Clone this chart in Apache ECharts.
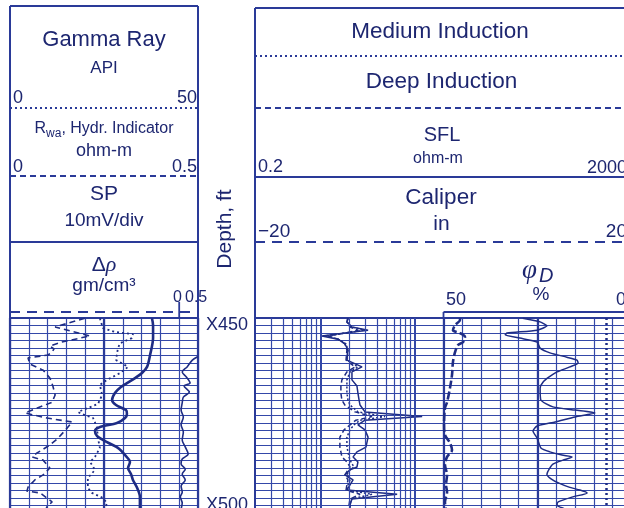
<!DOCTYPE html>
<html><head><meta charset="utf-8">
<script src="https://cdn.jsdelivr.net/npm/echarts@6/dist/echarts.min.js"></script>
<style>html,body{margin:0;padding:0;background:#fff}#c{width:624px;height:508px}</style>
</head><body><div id="c"></div>
<script>
// ---------------- DATA ----------------
// Track 1
const gammaDepth = [448.0, 448.5, 450.4, 452.9, 454.6, 455.7, 456.5, 457.4, 458.2, 459.0, 460.7, 462.4, 464.6, 466.8, 469.3, 471.3, 474.3, 475.7, 476.8, 478.5, 481.3, 483.2, 485.4, 486.5, 487.4, 489.6, 491.5, 492.9, 494.9, 496.0, 496.5, 497.9, 499.0, 500.4, 501.8, 503.5];
const gammaAPI   = [19.9, 19.9, 12.0, 21.3, 13.8, 10.6, 11.7, 11.2, 10.1, 4.8, 5.3, 8.8, 10.6, 11.4, 12.0, 11.2, 4.0, 9.8, 16.5, 15.2, 12.8, 10.6, 7.2, 5.9, 8.8, 10.6, 8.8, 6.6, 4.8, 4.5, 8.0, 9.8, 11.2, 9.8, 9.3, 9.8];

const rwaDepth = [448.0, 448.5, 450.7, 451.8, 452.4, 453.5, 454.9, 456.3, 459.6, 461.0, 461.5, 463.2, 465.1, 466.5, 469.3, 471.8, 474.0, 474.6, 475.7, 478.2, 481.3, 484.0, 486.5, 487.9, 490.1, 492.4, 495.1, 496.5, 497.9, 499.3, 500.7, 503.5];
const rwaOhmm  = [0.239, 0.239, 0.247, 0.279, 0.327, 0.324, 0.293, 0.287, 0.282, 0.306, 0.314, 0.293, 0.258, 0.239, 0.245, 0.234, 0.181, 0.191, 0.221, 0.231, 0.234, 0.239, 0.226, 0.213, 0.226, 0.207, 0.207, 0.218, 0.247, 0.258, 0.253, 0.250];

const spDepth = [448.0, 449.9, 453.5, 458.2, 461.5, 463.2, 464.6, 466.0, 467.1, 468.7, 470.7, 472.1, 473.5, 474.6, 475.7, 477.1, 478.2, 479.3, 480.7, 482.4, 484.0, 486.0, 487.9, 489.6, 491.3, 492.9, 495.1, 497.6, 499.9, 503.5];
const spMv    = [-24.5, -23.9, -23.9, -25.5, -27.1, -29.8, -33.5, -37.8, -41.0, -44.1, -45.7, -43.6, -38.3, -37.8, -38.8, -43.1, -52.1, -54.8, -53.7, -48.4, -42.6, -38.8, -36.2, -37.2, -35.6, -34.6, -32.4, -30.9, -30.9, -30.9];

const drhoDepth = [458.6, 459.6, 461.5, 462.9, 464.3, 466.0, 466.8, 468.5, 469.9, 471.5, 473.5, 475.4, 477.6, 479.6, 481.8, 483.7, 485.7, 487.1, 488.5, 489.9, 491.3, 492.9, 494.6, 496.3, 497.6, 499.3, 501.3, 503.5];
const drhoVal   = [0.50, 0.35, 0.21, 0.08, 0.19, 0.29, 0.13, 0.27, 0.11, 0.08, 0.05, 0.11, 0.05, 0.11, 0.08, 0.16, 0.24, 0.08, 0.05, 0.16, 0.08, 0.16, 0.05, 0.08, 0.03, 0.08, 0.05, 0.08];

// Track 2 (resistivity, ohm-m, log 0.2-2000)
const resDepth = [448.0, 449.0, 450.4, 451.3, 452.1, 452.9, 453.8, 455.1, 456.8, 459.6, 461.5, 462.9, 465.1, 466.8, 468.8, 470.7, 472.1, 474.0, 475.3, 476.3, 477.6, 479.0, 481.0, 483.8, 485.1, 486.5, 487.9, 489.3, 490.1, 491.5, 492.9, 494.3, 495.7, 496.9, 498.2, 499.9, 501.8];
const sflOhmm  = [1.95, 1.90, 2.15, 3.19, 1.81, 1.03, 1.53, 1.81, 1.95, 1.90, 2.75, 2.15, 2.15, 2.43, 2.49, 2.56, 2.62, 2.96, 12.0, 2.96, 2.49, 2.96, 3.19, 3.03, 2.43, 2.21, 2.49, 2.43, 2.05, 1.81, 2.21, 2.05, 1.90, 6.5, 2.15, 2.05, 2.05];
const deepOhmm = [1.95, 1.90, 2.05, 2.49, 1.81, 1.20, 1.53, 1.81, 1.90, 1.86, 2.32, 1.90, 1.68, 1.64, 1.64, 1.68, 1.81, 2.32, 3.51, 2.37, 2.05, 1.77, 1.60, 1.60, 1.64, 1.68, 1.90, 2.05, 1.95, 1.81, 1.95, 1.90, 1.86, 2.62, 2.05, 2.00, 2.00];
const medOhmm  = [1.95, 1.90, 2.10, 2.89, 1.86, 1.11, 1.53, 1.86, 1.95, 1.90, 2.49, 2.05, 1.90, 1.90, 1.90, 1.95, 2.05, 2.49, 4.83, 2.62, 2.26, 2.05, 1.90, 1.90, 1.95, 2.00, 2.10, 2.26, 2.05, 1.90, 2.05, 1.95, 1.90, 3.51, 2.10, 2.05, 2.05];

// Caliper (in, -20..20 across tracks 2-3)
const calDepth = [447.9, 448.5, 449.9, 451.3, 452.1, 453.2, 454.6, 455.4, 457.4, 460.1, 463.7, 467.4, 471.3, 472.9, 477.6, 480.4, 482.6, 484.6, 486.5, 488.7, 491.5, 494.3, 496.3, 499.0, 501.8];
const calIn    = [1.81, 1.81, 1.28, 1.06, 1.81, 2.34, 2.13, 1.60, 1.28, 1.06, 0.96, 0.74, 0.43, 0.21, 0.11, 0.21, 0.74, 0.96, 0.43, 0.21, 0.43, 0.32, 0.43, 0.21, 0.32];

// Track 3 (density porosity %, 50..0)
const phiDepth = [448.0, 449.0, 450.1, 451.3, 452.1, 452.6, 453.5, 454.6, 456.3, 457.6, 458.8, 459.6, 460.4, 461.5, 462.9, 464.3, 465.7, 467.4, 470.7, 472.6, 473.5, 474.3, 475.4, 476.8, 477.9, 479.3, 481.3, 484.0, 485.1, 486.0, 486.5, 487.4, 488.5, 489.9, 491.3, 492.6, 493.8, 494.9, 495.7, 496.5, 497.6, 499.0, 499.9, 501.0, 502.1];
const phiPct   = [28.9, 24.3, 22.5, 25.1, 33.1, 33.6, 29.7, 25.1, 24.3, 21.7, 17.2, 14.5, 14.2, 16.4, 19.8, 21.9, 23.5, 24.3, 24.1, 20.9, 15.0, 9.7, 15.0, 20.3, 25.1, 26.2, 25.1, 24.1, 21.7, 18.5, 15.8, 18.2, 20.9, 21.9, 22.5, 21.4, 19.3, 16.6, 13.7, 11.8, 15.6, 19.5, 19.8, 17.7, 16.4];
const phiDottedRef = [6.8];

// Grid / tick values
const logGridValues = [0.3, 0.4, 0.5, 0.6, 0.7, 0.8, 0.9, 1, 2, 3, 4, 5, 6, 7, 8, 9, 10];
const depthLabels = {450: 'X450', 500: 'X500'};

// ---------------- STYLE ----------------
const C_TEXT = '#1d2670', C_LINE = '#2a3a98', C_GRID = '#3448a8', C_CURVE = '#1e2c84';
const FONT = '"Liberation Sans", Arial, sans-serif';
const SERIF = '"Liberation Serif", "DejaVu Serif", serif';
const depthStep = 50 / 24;
const depthMin = 215 * depthStep, depthMax = 242 * depthStep;
const TOP = 318, GH = 202.5;

const zip = (xs, ys) => xs.map((x, i) => [x, ys[i]]);

function xAx(gridIndex, o) {
  return Object.assign({
    type: 'value', gridIndex, position: 'top',
    axisLine: {show: false, onZero: false}, axisTick: {show: false},
    axisLabel: {show: false}, splitLine: {show: false}
  }, o);
}
function yAx(gridIndex, showLabel) {
  return {
    type: 'value', gridIndex, inverse: true, min: depthMin, max: depthMax, interval: depthStep,
    axisLine: {show: true, onZero: false, lineStyle: {color: C_LINE, width: 2}},
    axisTick: {show: false},
    axisLabel: {
      show: showLabel, interval: 0, margin: 7, color: C_TEXT, fontSize: 18, fontFamily: FONT,
      formatter: v => {
        for (const k in depthLabels) if (Math.abs(v - k) < 0.05) return depthLabels[k];
        return '';
      }
    },
    splitLine: {show: true, lineStyle: {color: C_GRID, width: 1.2}}
  };
}
function line(name, xi, yi, data, ls, extra) {
  return Object.assign({
    name, type: 'line', xAxisIndex: xi, yAxisIndex: yi, data, symbol: 'none',
    silent: true, animation: false, clip: true,
    lineStyle: Object.assign({color: C_CURVE, width: 1.5}, ls)
  }, extra || {});
}

// graphic helpers
function hl(x1, x2, y, w, dash) {
  return {type: 'line', silent: true, z: 50, shape: {x1, y1: y, x2, y2: y},
    style: {stroke: C_LINE, lineWidth: w, lineDash: dash || null}};
}
function vl(x, y1, y2, w) {
  return {type: 'line', silent: true, z: 50, shape: {x1: x, y1, x2: x, y2},
    style: {stroke: C_LINE, lineWidth: w}};
}
function tx(text, x, y, size, align, extra) {
  const st = Object.assign({
    text, fill: C_TEXT, font: size + 'px ' + FONT,
    align: align || 'center', textAlign: align || 'center',
    verticalAlign: 'middle', textVerticalAlign: 'middle'
  }, extra || {});
  return {type: 'text', silent: true, z: 50, x, y, style: st};
}

const graphics = [
  // left header box
  hl(10, 198, 6, 2), vl(10, 6, 318, 2), vl(198, 6, 318, 2),
  hl(10, 198, 108, 1.8, [2, 3]),
  hl(10, 198, 176, 1.8, [6, 4]),
  hl(10, 198, 242, 1.8),
  hl(10, 198, 312, 1.8, [10, 7]),
  vl(179.2, 302, 318, 1.8),
  // right header box
  hl(255, 640, 8, 2), vl(255, 8, 318, 2),
  hl(255, 640, 56, 1.8, [2, 3]),
  hl(255, 640, 108, 1.8, [6, 4]),
  hl(255, 640, 177, 1.8),
  hl(255, 640, 242, 1.8, [10, 7]),
  hl(443.5, 640, 312, 1.8), vl(443.5, 312, 318, 1.8),
  // left texts
  tx('Gamma Ray', 104, 40, 22),
  tx('API', 104, 68, 17),
  tx('0', 13, 98, 18, 'left'), tx('50', 197, 98, 18, 'right'),
  tx('{a|R}{b|wa}{a|, Hydr. Indicator}', 104, 129, 16, 'center', {
    rich: {a: {font: '16px ' + FONT, fill: C_TEXT}, b: {font: '12px ' + FONT, fill: C_TEXT, padding: [9, 0, 0, 0]}}
  }),
  tx('ohm-m', 104, 151, 18),
  tx('0', 13, 167, 18, 'left'), tx('0.5', 197, 167, 18, 'right'),
  tx('SP', 104, 194, 21),
  tx('10mV/div', 104, 221, 19),
  tx('{a|Δ}{b|ρ}', 104, 265, 21, 'center', {
    rich: {a: {font: '21px ' + FONT, fill: C_TEXT}, b: {font: 'italic 22px ' + SERIF, fill: C_TEXT}}
  }),
  tx('gm/cm³', 104, 286, 19),
  tx('0', 177.5, 297.5, 16), tx('0.5', 185, 297.5, 16, 'left'),
  // depth title
  Object.assign(tx('Depth, ft', 225, 229, 21), {rotation: Math.PI / 2}),
  // right texts
  tx('Medium Induction', 440, 32, 22.5),
  tx('Deep Induction', 441.5, 82, 22.5),
  tx('SFL', 442, 135, 20),
  tx('ohm-m', 438, 159, 16),
  tx('0.2', 258, 167, 18, 'left'), tx('2000', 627, 168, 18, 'right'),
  tx('Caliper', 441, 198, 22.5),
  tx('in', 441.5, 224, 21),
  tx('−20', 258, 232, 19, 'left'), tx('20', 627, 232, 19, 'right'),
  tx('{p|φ}{d|D}', 522, 271, 26, 'left', {
    rich: {p: {font: 'italic 27px ' + SERIF, fill: C_TEXT}, d: {font: 'italic 20px ' + FONT, fill: C_TEXT, padding: [10, 0, 0, 2]}}
  }),
  tx('%', 541, 295, 19),
  tx('50', 446, 300, 18, 'left'), tx('0', 626, 300, 18, 'right')
];

const gridBase = {top: TOP, height: GH, containLabel: false, outerBoundsMode: 'none'};
const option = {
  backgroundColor: '#fff',
  animation: false,
  grid: [
    Object.assign({left: 10, width: 188}, gridBase),
    Object.assign({left: 255, width: 376}, gridBase),
    Object.assign({left: 443.5, width: 188}, gridBase)
  ],
  xAxis: [
    xAx(0, {min: 0, max: 50, interval: 5, axisLine: {show: true, onZero: false, lineStyle: {color: C_LINE, width: 2}},
      splitLine: {show: true, lineStyle: {color: C_GRID, width: 1.2}}}),
    xAx(0, {min: 0, max: 0.5}),
    xAx(0, {min: -100, max: 0, interval: 50, splitLine: {show: true, lineStyle: {color: C_LINE, width: 2.2}}}),
    xAx(0, {min: -4.5, max: 0.5}),
    xAx(1, {type: 'log', logBase: 10, min: 0.2, max: 2000,
      axisLine: {show: true, onZero: false, lineStyle: {color: C_LINE, width: 2}}}),
    xAx(1, {min: -20, max: 20}),
    xAx(2, {min: 0, max: 50, inverse: true, interval: 5, axisLine: {show: true, onZero: false, lineStyle: {color: C_LINE, width: 2}},
      splitLine: {show: true, lineStyle: {color: C_GRID, width: 1.2}}}),
    xAx(2, {min: 0, max: 50, interval: 25, splitLine: {show: true, lineStyle: {color: C_LINE, width: 2.2}}})
  ],
  yAxis: [yAx(0, false), yAx(1, true), yAx(2, false)],
  series: [
    line('Gamma Ray', 0, 0, zip(gammaAPI, gammaDepth), {type: [6, 4], width: 1.6}),
    line('Rwa', 1, 0, zip(rwaOhmm, rwaDepth), {type: [2, 3], width: 1.8}),
    line('SP', 2, 0, zip(spMv, spDepth), {width: 2.6}, {smooth: 0.3}),
    line('Delta rho', 3, 0, zip(drhoVal, drhoDepth), {width: 1.6}, {smooth: 0.3}),
    line('SFL', 4, 1, zip(sflOhmm, resDepth), {width: 1.5}, {
      markLine: {
        silent: true, symbol: 'none', animation: false, label: {show: false},
        emphasis: {disabled: true},
        lineStyle: {color: C_GRID, type: 'solid', width: 1.2},
        data: logGridValues.map(v => ({xAxis: v, lineStyle: {color: C_GRID, type: 'solid', width: (v === 1 || v === 10) ? 2 : 1.2}}))
      }
    }),
    line('Deep Induction', 4, 1, zip(deepOhmm, resDepth), {type: [5, 3], width: 1.5}),
    line('Medium Induction', 4, 1, zip(medOhmm, resDepth), {type: [2, 2], width: 1.5}),
    line('Caliper', 5, 1, zip(calIn, calDepth), {type: [8, 3], width: 2.6}, {smooth: 0.3}),
    line('phiD', 6, 2, zip(phiPct, phiDepth), {width: 1.5}, {
      smooth: 0.2,
      markLine: {
        silent: true, symbol: 'none', animation: false, label: {show: false},
        emphasis: {disabled: true},
        data: phiDottedRef.map(v => ({xAxis: v, lineStyle: {color: C_CURVE, type: [2, 3], width: 2.5}}))
      }
    })
  ],
  graphic: {elements: graphics}
};

const chart = echarts.init(document.getElementById('c'), null, {renderer: 'canvas'});
chart.setOption(option);
</script></body></html>
